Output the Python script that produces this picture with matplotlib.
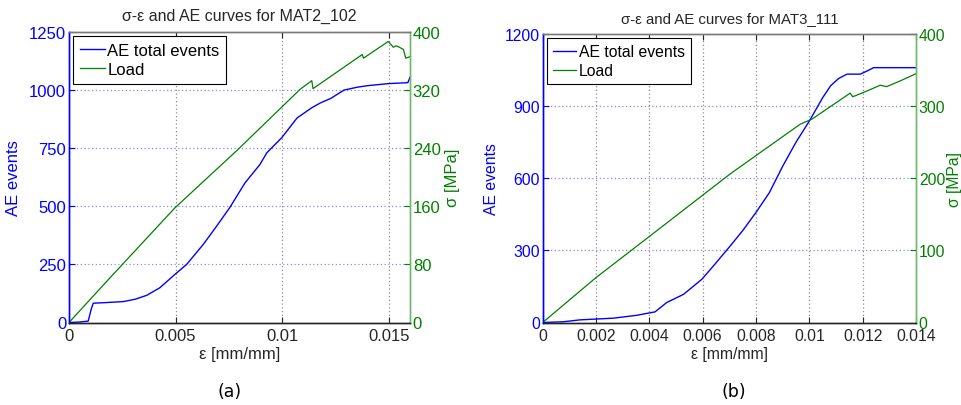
"""
Stress-strain and AE cumulative event curves for two specimens, side by side.
Output: out.png (962x406)
"""

import matplotlib
matplotlib.use("Agg")
import matplotlib.pyplot as plt
from matplotlib.ticker import FixedLocator

# -- Data --------------------------------------------------------------------

# (a) MAT2_102
A_EPS_AE = [0, 0.0005, 0.0009, 0.00105, 0.00114, 0.0018, 0.00255, 0.0031,
            0.00365, 0.00427, 0.00497, 0.00552, 0.0063, 0.00693, 0.00754,
            0.00826, 0.00896, 0.00928, 0.00998, 0.0107, 0.01139, 0.0118,
            0.0123, 0.0129, 0.0135, 0.014, 0.015, 0.0159, 0.016]
A_AE = [0, 2, 6, 60, 83, 86, 90, 100, 117, 150, 207, 250, 336, 415, 494,
        601, 680, 730, 795, 880, 924, 945, 965, 1000, 1012, 1019, 1028,
        1032, 1055]

A_EPS_LOAD = [0, 0.002, 0.004974, 0.00792, 0.01084, 0.01139, 0.01145,
              0.01376, 0.01382, 0.01498, 0.01522, 0.01535, 0.0155, 0.01569,
              0.0158, 0.016]
A_LOAD = [0, 64, 158, 238, 321, 333, 322, 369, 364, 387, 379, 381, 379,
          376, 364, 366]

# (b) MAT3_111
B_EPS_AE = [0, 0.00077, 0.0014, 0.00265, 0.00353, 0.00396, 0.00421, 0.00465,
            0.00528, 0.00597, 0.0064, 0.00703, 0.0075, 0.008, 0.0085, 0.009,
            0.0095, 0.01, 0.0105, 0.0108, 0.0111, 0.01141, 0.01191, 0.0122,
            0.01241, 0.014]
B_AE = [0, 3, 11, 18, 30, 39, 44, 83, 117, 180, 235, 318, 382, 458, 540,
        650, 750, 838, 935, 985, 1015, 1033, 1033, 1048, 1060, 1060]

B_EPS_LOAD = [0, 0.00199, 0.00399, 0.00703, 0.00966, 0.0101, 0.01153,
              0.01163, 0.01216, 0.01266, 0.0129, 0.01341, 0.014]
B_LOAD = [0, 62, 119, 206, 275, 282, 318, 313, 321, 329, 327, 335, 345]

PANELS = [
    # (title, eps_ae, ae, eps_load, load, xlim, xticks, xticklabels,
    #  ae_ticks, load_ticks, tag)
    ("σ-ε and AE curves for MAT2_102", A_EPS_AE, A_AE, A_EPS_LOAD, A_LOAD,
     0.016, [0, 0.005, 0.01, 0.015], ["0", "0.005", "0.01", "0.015"],
     [0, 250, 500, 750, 1000, 1250], [0, 80, 160, 240, 320, 400], "(a)"),
    ("σ-ε and AE curves for MAT3_111", B_EPS_AE, B_AE, B_EPS_LOAD, B_LOAD,
     0.014, [0, 0.002, 0.004, 0.006, 0.008, 0.01, 0.012, 0.014],
     ["0", "0.002", "0.004", "0.006", "0.008", "0.01", "0.012", "0.014"],
     [0, 300, 600, 900, 1200], [0, 100, 200, 300, 400], "(b)"),
]

# -- Style -------------------------------------------------------------------

BLUE = "#0000FF"
GREEN = "#008000"
LGREEN = "#6DB86D"
DARK = "#262626"
FONT = "Liberation Sans"

plt.rcParams["font.family"] = [FONT, "DejaVu Sans"]

fig = plt.figure(figsize=(9.62, 4.06), dpi=100)
fig.patch.set_facecolor("white")

AX_POS = [
    [69 / 962, 1 - 323.5 / 406, 341 / 962, 290.5 / 406],
    [542.7 / 962, 1 - 323.5 / 406, 373.3 / 962, 288.5 / 406],
]
FS_LIST = [12, 11.3]          # panel (b) was pasted in slightly smaller
LEFT_PAD = [6.0, 4.5]
RIGHT_PAD = [3.0, 1.0]
TITLE_PAD = [9, 8.5]
TAG_X = [230 / 962, 734 / 962]

for i, (title, ex, ae, el, ld, xmax, xt, xtl, yt1, yt2, tag) in enumerate(PANELS):
    fs = FS_LIST[i]
    ax = fig.add_axes(AX_POS[i])
    ax2 = ax.twinx()

    h1, = ax.plot(ex, ae, color=BLUE, lw=1.0, label="AE total events")
    h2, = ax2.plot(el, ld, color=GREEN, lw=0.9, label="Load")

    ax.set_xlim(0, xmax)
    ax.set_ylim(yt1[0], yt1[-1])
    ax2.set_ylim(yt2[0], yt2[-1])

    ax.xaxis.set_major_locator(FixedLocator(xt))
    ax.set_xticklabels(xtl)
    ax.yaxis.set_major_locator(FixedLocator(yt1))
    ax2.yaxis.set_major_locator(FixedLocator(yt2))

    # grid: vertical gray dotted, horizontal bluish dotted
    for x in xt:
        if 0 < x < xmax:
            ax.axvline(x, color="#8f8f8f", lw=0.9, ls=(0, (1, 2)), zorder=0)
    for y in yt1[1:-1]:
        ax.axhline(y, color="#8c8ce0", lw=0.9, ls=(0, (1, 2)), zorder=0)

    ax.tick_params(axis="x", direction="in", length=4, width=0.8,
                   colors=DARK, labelsize=fs, pad=4, top=True)
    ax.tick_params(axis="y", direction="in", length=4, width=0.8,
                   colors=BLUE, labelsize=fs, pad=2)
    ax2.tick_params(axis="y", direction="in", length=4, width=0.8,
                    colors=GREEN, labelsize=fs, pad=2)

    for a in (ax, ax2):
        a.spines["top"].set_color("#7a7a7a")
        a.spines["bottom"].set_color(DARK)
        a.spines["left"].set_color(BLUE)
        a.spines["right"].set_color(LGREEN)
        for s in a.spines.values():
            s.set_linewidth(1.0)

    ax.set_xlabel("ε [mm/mm]", fontsize=fs, color=DARK, labelpad=2)
    ax.set_ylabel("AE events", fontsize=fs, color=BLUE, labelpad=LEFT_PAD[i])
    ax2.set_ylabel("σ [MPa]", fontsize=fs, color=GREEN, labelpad=RIGHT_PAD[i])
    ax.set_title(title, fontsize=fs - 0.5, color=DARK, pad=TITLE_PAD[i])

    leg = ax2.legend([h1, h2], ["AE total events", "Load"], loc="upper left",
                     fontsize=fs, frameon=True, fancybox=False, shadow=False,
                     framealpha=1, edgecolor="black", borderaxespad=0.25,
                     borderpad=0.4, labelspacing=0.25, handlelength=1.5,
                     handletextpad=0.15)
    leg.get_frame().set_linewidth(0.8)

    fig.text(TAG_X[i], 1 - 392 / 406, tag, ha="center", va="center",
             fontsize=12.5, color="black", family="DejaVu Sans")

fig.savefig("out.png", dpi=100, facecolor="white")
